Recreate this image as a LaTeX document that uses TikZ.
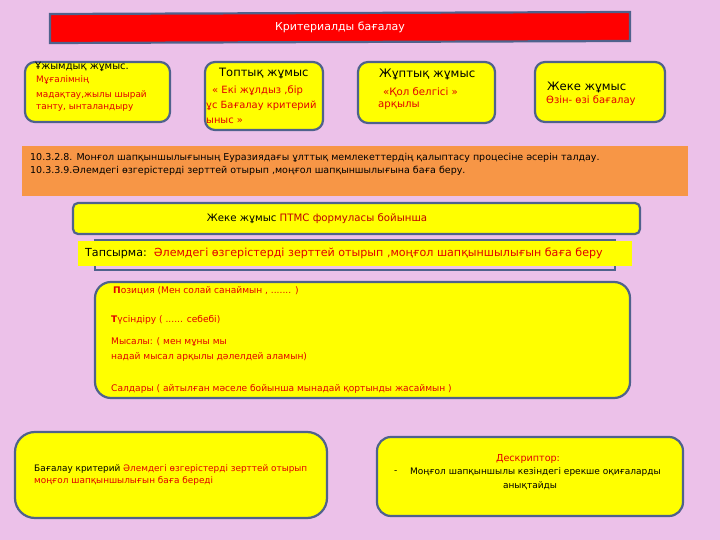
\documentclass[tikz,border=0pt]{standalone}
\usepackage{fontspec}
\setmainfont{DejaVu Sans}
\definecolor{bgpink}{RGB}{236,193,233}
\definecolor{frame}{RGB}{79,98,140}
\definecolor{yel}{RGB}{255,255,0}
\definecolor{orng}{RGB}{247,150,70}
\definecolor{txtred}{RGB}{225,0,0}
\definecolor{dred}{RGB}{192,0,0}
\tikzset{
  ybox/.style={draw=frame, line width=2.2pt, fill=yel, rounded corners=#1},
  ybox/.default=10pt,
  txt/.style={anchor=west, inner sep=0pt, font=\fontsize{9}{11}\selectfont},
  rtxt/.style={txt, text=txtred},
}
\begin{document}
\begin{tikzpicture}[x=1pt,y=-1pt]
\useasboundingbox (0,0) rectangle (720,540);
\fill[bgpink] (0,0) rectangle (720,540);
% title bar
\draw[frame, line width=2.2pt, fill=red] (50,14) -- (630,12) -- (630,41) -- (50,43) -- cycle;
\node[inner sep=0pt, text=white, font=\fontsize{11}{13}\selectfont] (title) at (340,27) {Критериалды бағалау};
% box 1
\draw[ybox] (25,62) rectangle (170,122);
\node[txt, font=\fontsize{10}{11}\selectfont] (b1a) at (35,67) {Ұжымдық жұмыс.};
\node[rtxt, font=\fontsize{8.9}{11}\selectfont] (b1b) at (36,80) {Мұғалімнің};
\node[rtxt, font=\fontsize{8.9}{11}\selectfont] (b1c) at (36,95) {мадақтау,жылы шырай};
\node[rtxt, font=\fontsize{8.9}{11}\selectfont] (b1d) at (36,108) {танту, ынталандыру};
% box 2
\draw[ybox] (205,62) rectangle (323,130);
\node[txt, font=\fontsize{11.5}{13}\selectfont] (b2a) at (219,74) {Топтық жұмыс};
\node[rtxt, font=\fontsize{10}{12}\selectfont] (b2b) at (212,91) {« Екі жұлдыз ,бір};
\node[rtxt, font=\fontsize{9.9}{12}\selectfont] (b2c) at (206,106) {ұс Бағалау критерий};
\node[rtxt, font=\fontsize{9.9}{12}\selectfont] (b2d) at (206,121) {ыныс »};
% box 3
\draw[ybox] (358,62) rectangle (495,123);
\node[txt, font=\fontsize{11.7}{13}\selectfont] (b3a) at (379,74) {Жұптық жұмыс};
\node[rtxt, font=\fontsize{10.2}{12}\selectfont] (b3b) at (383,92) {«Қол белгісі  »};
\node[rtxt, font=\fontsize{10.2}{12}\selectfont] (b3c) at (378,106) {арқылы};
% box 4
\draw[ybox] (535,62) rectangle (665,122);
\node[txt, font=\fontsize{11.6}{13}\selectfont] (b4a) at (547,87) {Жеке жұмыс};
\node[rtxt, font=\fontsize{10}{12}\selectfont] (b4b) at (546,101) {Өзін- өзі бағалау};
% orange
\fill[orng] (22,146) rectangle (688,196);
\node[txt, font=\fontsize{9.5}{11}\selectfont] (o1) at (30,158) {10.3.2.8. Монғол шапқыншылығының Еуразиядағы ұлттық мемлекеттердің қалыптасу процесіне әсерін талдау.};
\node[txt, font=\fontsize{9.5}{11}\selectfont] (o2) at (30,171) {10.3.3.9.Әлемдегі өзгерістерді зерттей отырып ,моңғол шапқыншылығына баға беру.};
% PTMS box
\draw[ybox=5pt] (73,203) rectangle (640,234);
\node[inner sep=0pt, font=\fontsize{10.2}{12}\selectfont] (ptms) at (317,219) {Жеке жұмыс \textcolor{dred}{ПТМС формуласы  бойынша}};
% task
\draw[frame, line width=2.2pt] (95,240) rectangle (615,270);
\fill[yel] (78,241) rectangle (632,266);
\node[txt, font=\fontsize{11.1}{13}\selectfont] (task) at (85,253) {Тапсырма:\ \ \textcolor{txtred}{Әлемдегі өзгерістерді зерттей отырып ,моңғол шапқыншылығын баға беру}};
% big box
\draw[ybox=16pt] (95,282) rectangle (630,398);
\node[rtxt, font=\fontsize{9.1}{11}\selectfont] (p1) at (113,291) {\textbf{П}озиция (Мен   солай санаймын , ....... )};
\node[rtxt, font=\fontsize{9.1}{11}\selectfont] (p2) at (111,320) {\textbf{Т}үсіндіру ( ...... себебі)};
\node[rtxt, font=\fontsize{9.1}{11}\selectfont] (p3) at (111,342) {Мысалы: ( мен мұны мы};
\node[rtxt, font=\fontsize{9.1}{11}\selectfont] (p4) at (111,357) {надай мысал арқылы дәлелдей аламын)};
\node[rtxt, font=\fontsize{9.1}{11}\selectfont] (p5) at (111,389) {Салдары ( айтылған мәселе бойынша  мынадай қортынды жасаймын )};
% bottom left
\draw[ybox=20pt] (15,432) rectangle (327,518);
\node[txt, font=\fontsize{8.9}{11}\selectfont] (bl1) at (34,469) {Бағалау  критерий  \textcolor{txtred}{Әлемдегі өзгерістерді зерттей отырып}};
\node[rtxt, font=\fontsize{8.9}{11}\selectfont] (bl2) at (34,481) {моңғол  шапқыншылығын баға береді};
% bottom right
\draw[ybox=14pt] (377,437) rectangle (683,516);
\node[inner sep=0pt, text=txtred, font=\fontsize{9.6}{11}\selectfont] (dr1) at (528,459) {Дескриптор:};
\node[txt, font=\fontsize{9}{11}\selectfont] (dash) at (394,472) {-};
\node[txt, font=\fontsize{9}{11}\selectfont] (dr2) at (410,472) {Моңғол шапқыншылы кезіндегі  ерекше оқиғаларды};
\node[inner sep=0pt, font=\fontsize{9}{11}\selectfont] (dr3) at (530,486) {анықтайды};
\end{tikzpicture}
\end{document}
